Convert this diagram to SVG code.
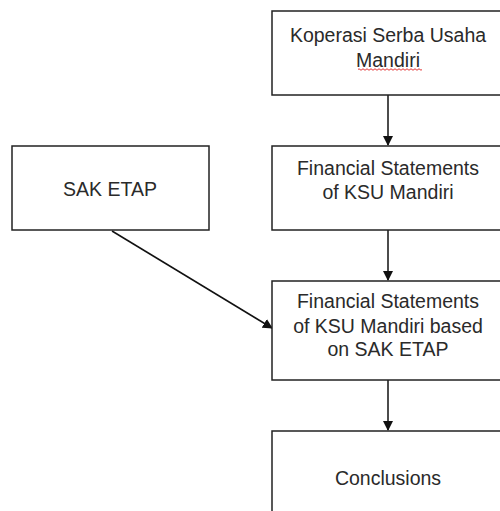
<svg xmlns="http://www.w3.org/2000/svg" width="500" height="511" viewBox="0 0 500 511">
<defs>
<style>
.box{fill:#fff;stroke:#222;stroke-width:1.5}
.t{font-family:"Liberation Sans",Arial,sans-serif;font-size:19.5px;fill:#2a2a2a;text-anchor:middle}
.c{stroke:#111;stroke-width:1.5;fill:none}
</style>
<marker id="ah" markerWidth="10" markerHeight="10" refX="9" refY="5" orient="auto" markerUnits="userSpaceOnUse">
<path d="M0,0 L10,5 L0,10 z" fill="#111"/>
</marker>
</defs>
<rect width="500" height="511" fill="#fff"/>
<g id="connectors">
<line class="c" x1="388" y1="95" x2="388" y2="145" marker-end="url(#ah)"/>
<line class="c" x1="388" y1="230" x2="388" y2="280" marker-end="url(#ah)"/>
<line class="c" x1="388" y1="380" x2="388" y2="430" marker-end="url(#ah)"/>
<line class="c" x1="112" y1="231" x2="272" y2="328" marker-end="url(#ah)"/>
</g>
<g id="ksu">
<rect class="box" x="272" y="11" width="234" height="84"/>
<text class="t" x="388" y="42">Koperasi Serba Usaha</text>
<text class="t" x="388" y="67">Mandiri</text>
<path d="M358,69.5 q1,-1.5 2,0 t2,0 t2,0 t2,0 t2,0 t2,0 t2,0 t2,0 t2,0 t2,0 t2,0 t2,0 t2,0 t2,0 t2,0 t2,0 t2,0 t2,0 t2,0 t2,0 t2,0 t2,0 t2,0 t2,0 t2,0 t2,0 t2,0 t2,0 t2,0 t2,0 t2,0 t2,0" fill="none" stroke="#e02020" stroke-width="0.9"/>
</g>
<g id="sak">
<rect class="box" x="12" y="146" width="197" height="84"/>
<text class="t" x="110" y="196">SAK ETAP</text>
</g>
<g id="fs">
<rect class="box" x="272" y="146" width="234" height="84"/>
<text class="t" x="388" y="175">Financial Statements</text>
<text class="t" x="388" y="199">of KSU Mandiri</text>
</g>
<g id="fs-sak">
<rect class="box" x="272" y="281" width="234" height="99"/>
<text class="t" x="388" y="308">Financial Statements</text>
<text class="t" x="388" y="333">of KSU Mandiri based</text>
<text class="t" x="388" y="356">on SAK ETAP</text>
</g>
<g id="conclusions">
<rect class="box" x="272" y="431" width="234" height="100"/>
<text class="t" x="388" y="485">Conclusions</text>
</g>
</svg>
